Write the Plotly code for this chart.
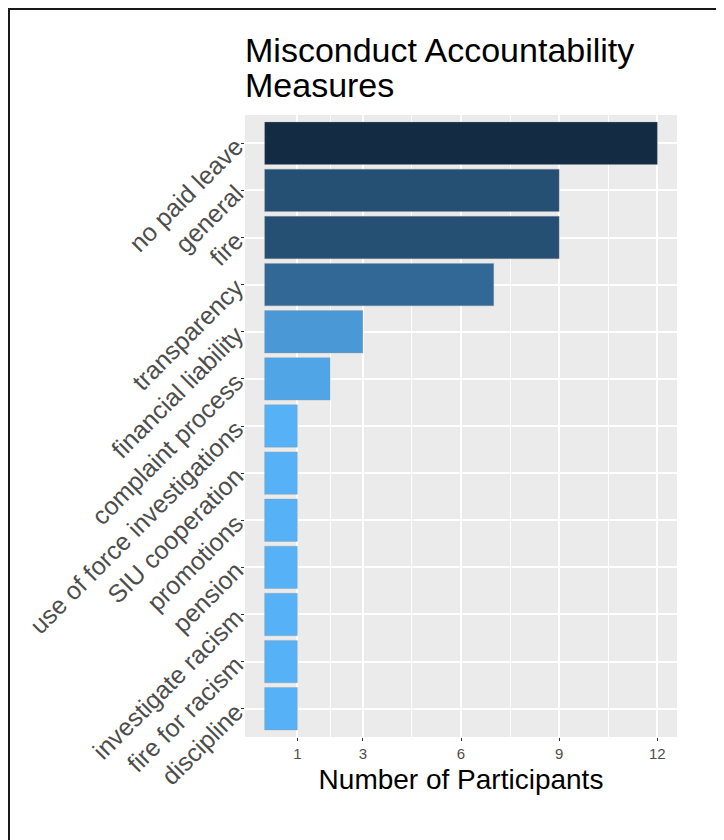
import plotly.graph_objects as go

categories = ["no paid leave", "general", "fire", "transparency", "financial liability",
              "complaint process", "use of force investigations", "SIU cooperation",
              "promotions", "pension", "investigate racism", "fire for racism", "discipline"]
counts = [12, 9, 9, 7, 3, 2, 1, 1, 1, 1, 1, 1, 1]
x_ticks = [1, 3, 6, 9, 12]
x_minor = [2, 4.5, 7.5, 10.5]
title_lines = ["Misconduct Accountability", "Measures"]
x_title = "Number of Participants"

OFF = 8  # page body margin
W, H = 724 - OFF, 840 - OFF
L, R, T, B = 245 - OFF, 677 - OFF, 115 - OFF, 737 - OFF
pw, ph = R - L, B - T

def px(x):
    return (x - OFF - L) / pw

def py(y):
    return (B - (y - OFF)) / ph

FONT = "Liberation Sans, Arial, sans-serif"

fig = go.Figure(go.Bar(
    x=counts, y=categories, orientation="h", width=0.9,
    marker=dict(color=counts, cmin=1, cmax=12,
                colorscale=[[0, "#56B1F7"], [1, "#132B43"]],
                line=dict(color="rgba(150,150,150,0.6)", width=0.6)),
    showlegend=False,
))

fig.update_layout(
    width=W, height=H,
    margin=dict(l=L, r=W - R, t=T, b=H - B, pad=0),
    paper_bgcolor="white", plot_bgcolor="#EBEBEB",
    font=dict(family=FONT),
    bargap=0.1,
)

fig.update_xaxes(
    range=[-0.6, 12.6], tickvals=x_ticks, ticktext=[str(v) for v in x_ticks],
    showgrid=True, gridcolor="white", gridwidth=1.6, zeroline=False,
    ticks="outside", ticklen=3, tickwidth=1.2, tickcolor="#333333",
    tickfont=dict(size=15, color="#4D4D4D", family=FONT),
    minor=dict(tickvals=x_minor, showgrid=True, gridcolor="white", gridwidth=0.7, ticks=""),
    title=dict(text=x_title, font=dict(size=28, color="black", family=FONT), standoff=8),
    showline=False,
)
fig.update_yaxes(
    categoryorder="array", categoryarray=categories,
    range=[len(categories) - 0.4, -0.6],
    showgrid=True, gridcolor="white", gridwidth=1.6, zeroline=False,
    ticks="outside", ticklen=3, tickwidth=1.2, tickcolor="#333333",
    tickangle=-45,
    tickfont=dict(size=25, color="#4D4D4D", family=FONT),
    showline=False,
)

# Title lines
fig.add_annotation(text=title_lines[0], xref="paper", yref="paper",
                   x=px(243), y=py(50), xanchor="left", yanchor="middle",
                   showarrow=False, font=dict(size=34, color="black", family=FONT))
fig.add_annotation(text=title_lines[1], xref="paper", yref="paper",
                   x=px(243), y=py(85), xanchor="left", yanchor="middle",
                   showarrow=False, font=dict(size=34, color="black", family=FONT))

# Outer frame (top and left edges visible)
fig.add_shape(type="line", xref="paper", yref="paper",
              x0=px(8), x1=px(740), y0=py(9), y1=py(9),
              line=dict(color="#1a1a1a", width=2))
fig.add_shape(type="line", xref="paper", yref="paper",
              x0=px(9), x1=px(9), y0=py(8), y1=py(860),
              line=dict(color="#1a1a1a", width=2))

fig.write_html("out.html")
